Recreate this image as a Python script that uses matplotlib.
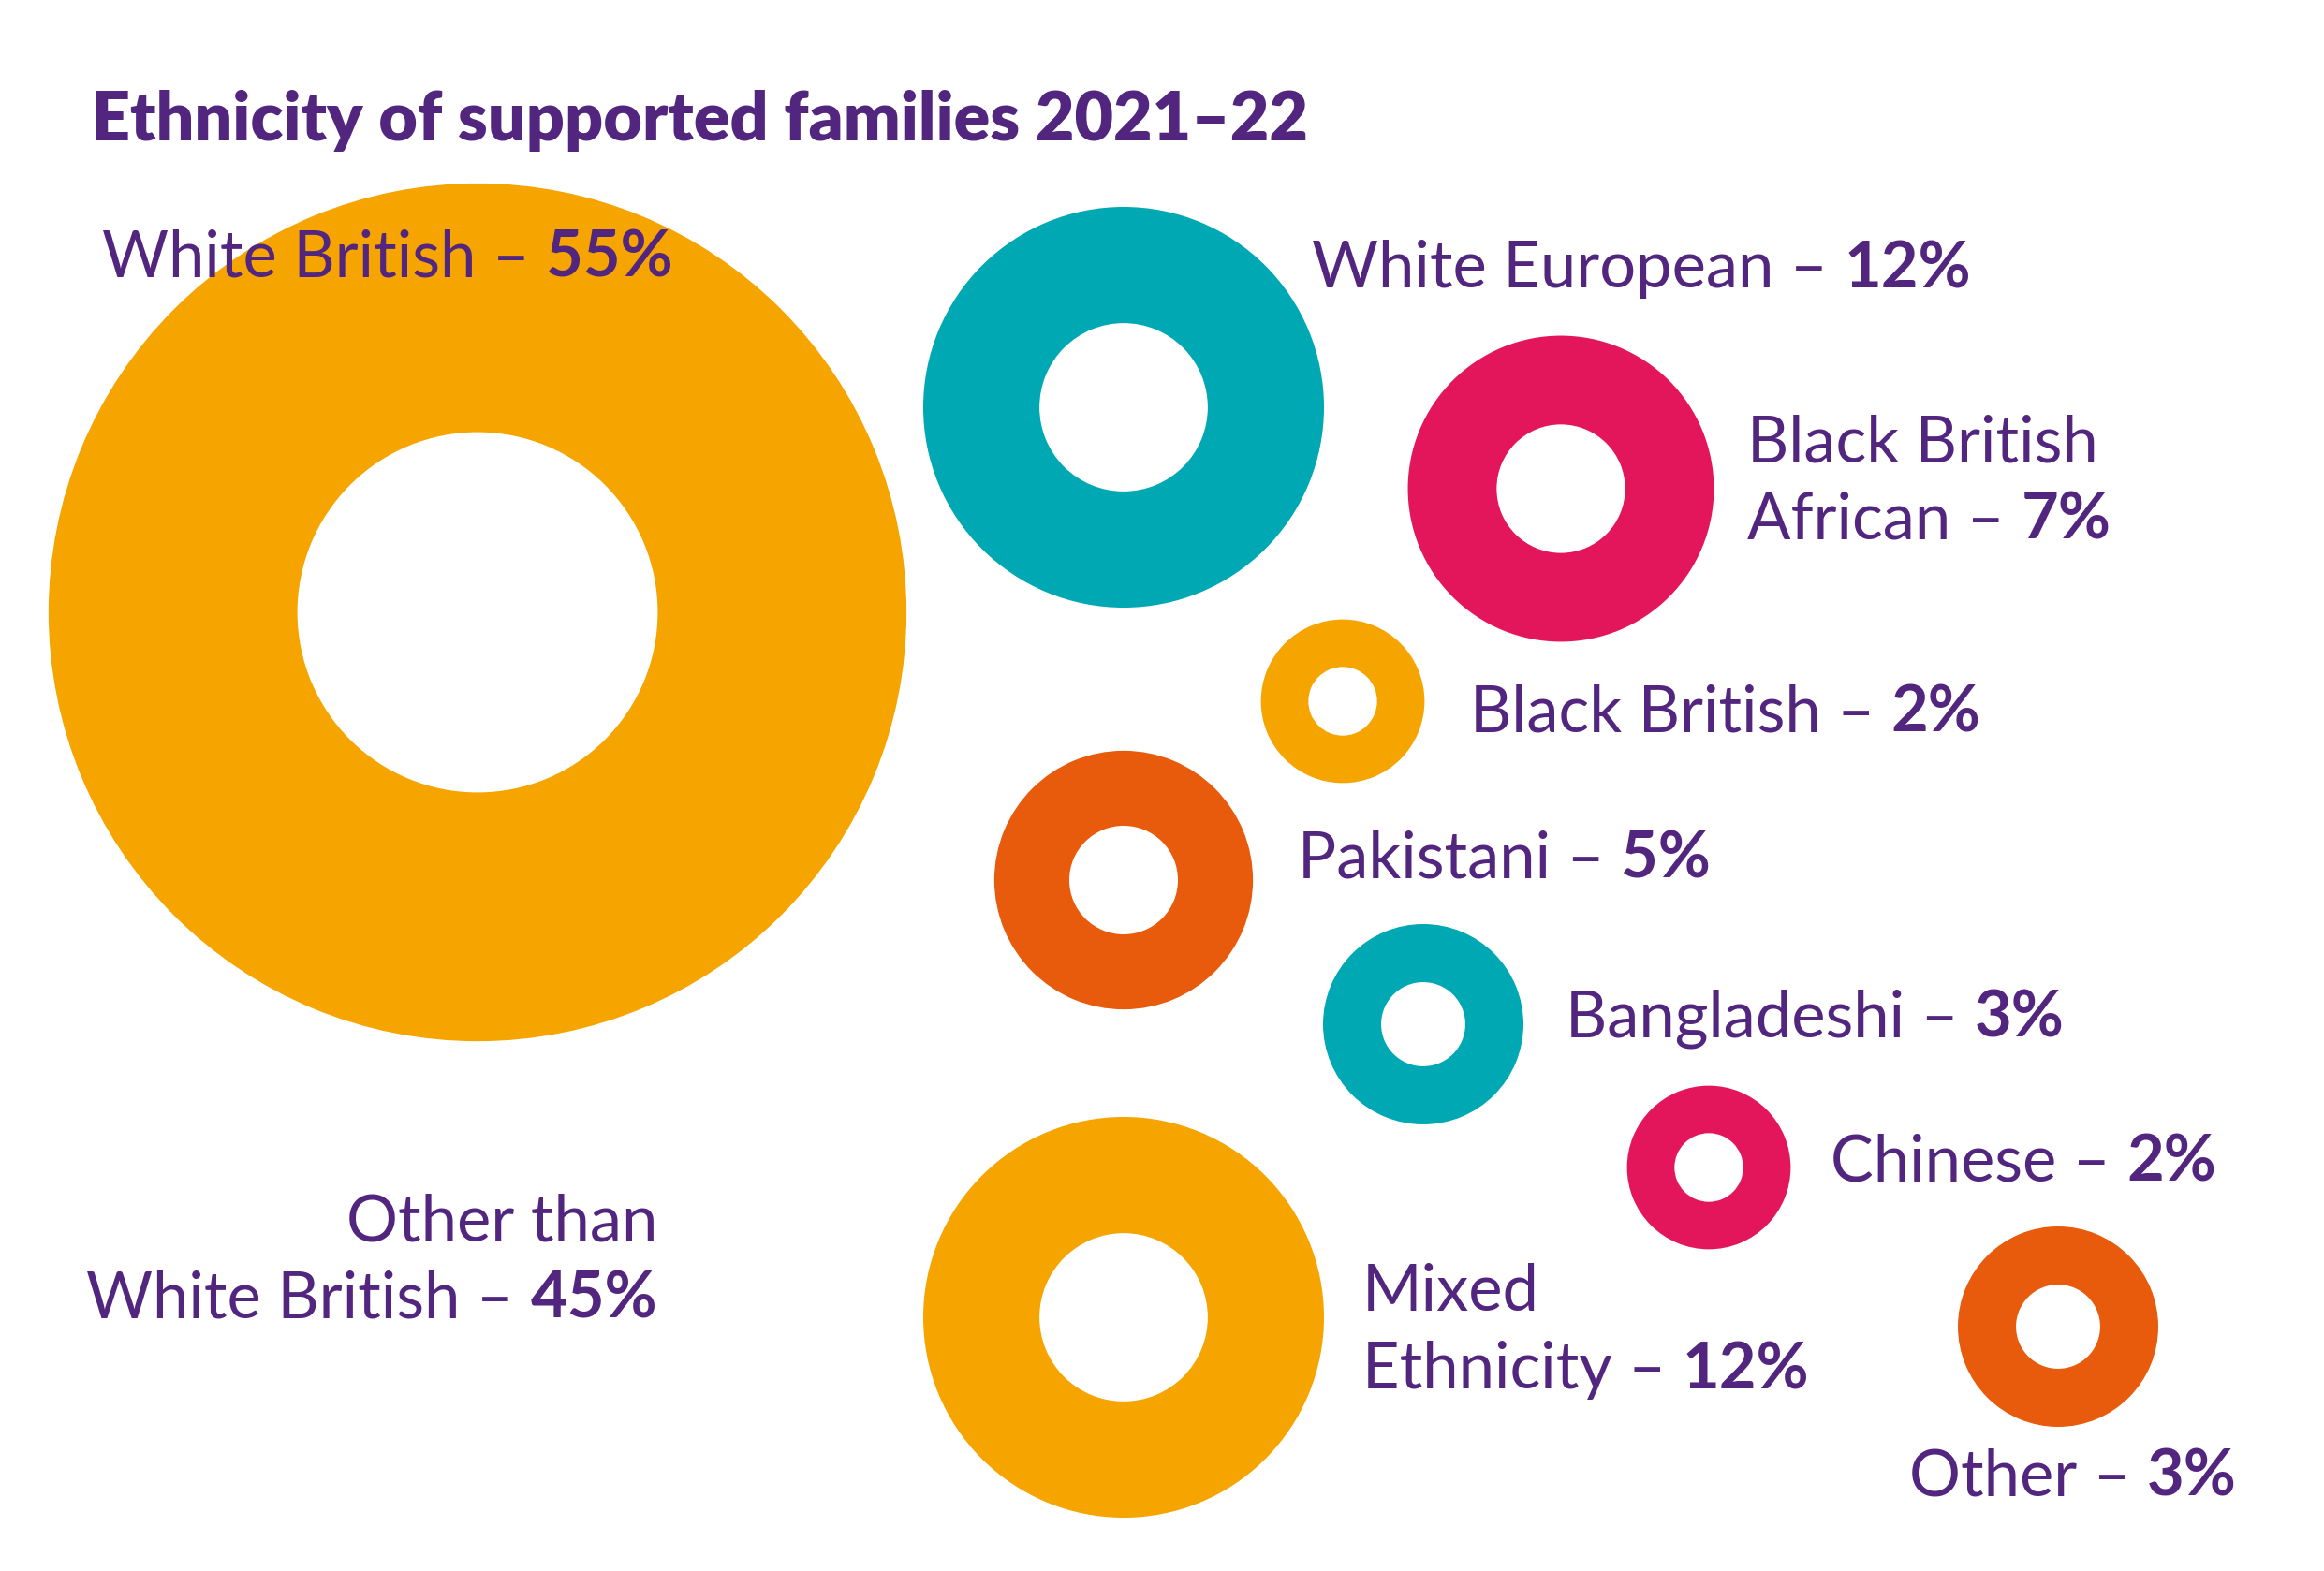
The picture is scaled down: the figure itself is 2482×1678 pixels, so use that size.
import numpy as np
import matplotlib
matplotlib.use("Agg")
import matplotlib.pyplot as plt
from matplotlib.patches import Wedge

# ---------------- data ----------------
title = "Ethnicity of supported families 2021\u201322"
categories = ["White British", "White European", "Black British African", "Black British",
              "Pakistani", "Bangladeshi", "Chinese", "Mixed Ethnicity", "Other"]
values = [55, 12, 7, 2, 5, 3, 2, 12, 3]
other_than_label = "Other than White British"
other_than_value = 45

# label lines (normal part, bold part) per category
label_lines = [
    [("White British \u2013 ", "55%")],
    [("White European \u2013 ", "12%")],
    [("Black British", ""), ("African \u2013 ", "7%")],
    [("Black British \u2013 ", "2%")],
    [("Pakistani \u2013 ", "5%")],
    [("Bangladeshi \u2013 ", "3%")],
    [("Chinese \u2013 ", "2%")],
    [("Mixed", ""), ("Ethnicity \u2013 ", "12%")],
    [("Other \u2013 ", "3%")],
]

# ---------------- layout / style ----------------
W, H = 2482, 1678
ORANGE = "#F5A400"
TEAL = "#00A8B4"
PINK = "#E4165B"
DORANGE = "#E85B0D"
PURPLE = "#52267F"
colors = [ORANGE, TEAL, PINK, ORANGE, DORANGE, TEAL, PINK, ORANGE, DORANGE]
centers = [(510, 654), (1200, 435), (1667, 522), (1434, 749), (1200, 940),
           (1520, 1094), (1825, 1247), (1200, 1407), (2198, 1417)]
label_pos = [(109, 295), (1401, 307), (1866, 493), (1570, 782), (1386, 938),
             (1672, 1108), (1955, 1262), (1455, 1400), (2039, 1597)]
line_gap = 83
scale_k = 214 / np.sqrt(12)   # radius per sqrt(percent) in px
hole = 0.42

FONT = ["Lato", "DejaVu Sans"]

fig = plt.figure(figsize=(W / 100, H / 100), dpi=100)
ax = fig.add_axes([0, 0, 1, 1])
ax.set_xlim(0, W)
ax.set_ylim(H, 0)
ax.axis("off")

# rings
for c, v, col in zip(centers, values, colors):
    R = scale_k * np.sqrt(v)
    ax.add_patch(Wedge(c, R, 0, 360, width=R * (1 - hole), facecolor=col,
                       edgecolor="none", zorder=1))

renderer = fig.canvas.get_renderer()
inv = ax.transData.inverted()


def width_of(s, fs, weight):
    t = ax.text(0, 0, s, fontsize=fs, fontweight=weight, family=FONT)
    w = t.get_window_extent(renderer).width
    t.remove()
    return w


# fit sizes
fs_lab = 50 * 704 / (width_of("White European \u2013 ", 50, "normal") + width_of("12%", 50, "bold"))
fs_title = 50 * 1298 / width_of(title, 50, "heavy")


def rich(x, y, normal, bold, ha="left"):
    kw = dict(fontsize=fs_lab, color=PURPLE, family=FONT, va="baseline", zorder=3)
    if ha == "left":
        t1 = ax.text(x, y, normal, ha="left", fontweight="normal", **kw)
        if bold:
            x1 = t1.get_window_extent(renderer).x1
            xd = inv.transform((x1, 0))[0]
            ax.text(xd, y, bold, ha="left", fontweight="bold", **kw)
    else:
        if bold:
            t2 = ax.text(x, y, bold, ha="right", fontweight="bold", **kw)
            x0 = t2.get_window_extent(renderer).x0
            x = inv.transform((x0, 0))[0]
        ax.text(x, y, normal, ha="right", fontweight="normal", **kw)


ax.text(98, 150, title, fontsize=fs_title, fontweight="heavy", color=PURPLE,
        family=FONT, va="baseline", ha="left")

for lines, (x, y) in zip(label_lines, label_pos):
    for i, (n, b) in enumerate(lines):
        rich(x, y + i * line_gap, n, b)

# "Other than White British – 45%" right aligned
words = other_than_label.split(" ")
rich(702, 1325, " ".join(words[:2]), "", ha="right")
rich(702, 1325 + line_gap - 1, " ".join(words[2:]) + " \u2013 ", f"{other_than_value}%", ha="right")

fig.savefig("out.png", dpi=100, facecolor="white")
